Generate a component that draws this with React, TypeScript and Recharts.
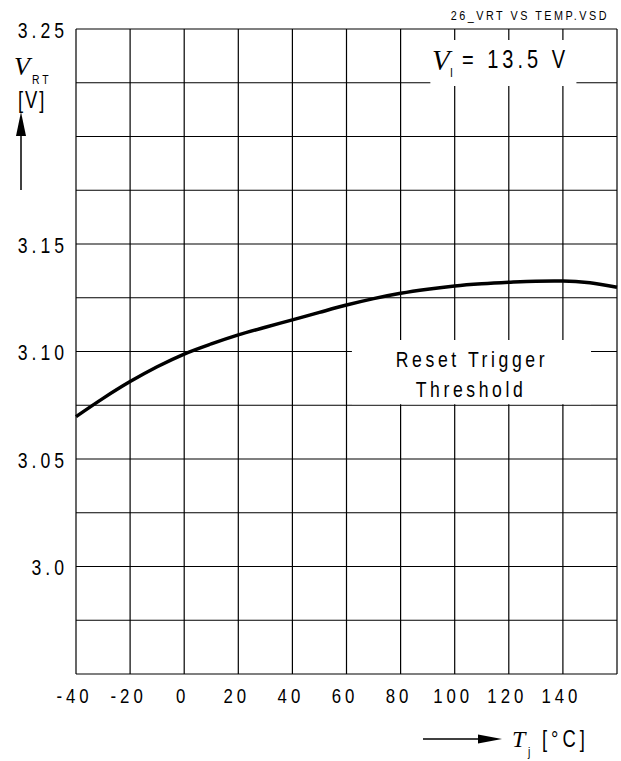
import React from "react";
import {
  LineChart,
  Line,
  XAxis,
  YAxis,
  CartesianGrid,
  ReferenceArea,
} from "recharts";

// junction temperature (°C) and reset trigger threshold (V)
const temps = [-40, -30, -20, -10, 0, 10, 20, 30, 40, 50, 60, 70, 80, 90, 100, 110, 120, 130, 140, 150, 160];
const vrt = [3.0697, 3.0782, 3.086, 3.0929, 3.0988, 3.1035, 3.1077, 3.1113, 3.1147, 3.1182, 3.1216, 3.1246, 3.1271, 3.129, 3.1305, 3.1315, 3.1322, 3.1327, 3.1328, 3.132, 3.1299];

const xTicks = [-40, -20, 0, 20, 40, 60, 80, 100, 120, 140, 160];
const yTicks = [2.95, 2.975, 3.0, 3.025, 3.05, 3.075, 3.1, 3.125, 3.15, 3.175, 3.2, 3.225, 3.25];
const yLabels: Record<string, string> = {
  "3.250": "3.25",
  "3.150": "3.15",
  "3.100": "3.10",
  "3.050": "3.05",
  "3.000": "3.0",
};

const data = temps.map((t, i) => ({ t, v: vrt[i] }));

const sans = "'Liberation Sans', Arial, sans-serif";
const serif = "'Liberation Serif', 'DejaVu Serif', serif";
const SQ = 0.8; // horizontal squeeze, to look like a narrow face

// narrow text: letter spacing ls is in screen pixels
const NText = ({ x, y, size, ls = 0, anchor = "start", children }: any) => (
  <g transform={`translate(${x},${y}) scale(${SQ},1)`}>
    <text x={0} y={0} textAnchor={anchor} fontFamily={sans} fontSize={size} letterSpacing={ls / SQ} fill="#000">
      {children}
    </text>
  </g>
);

const XTick = (props: any) => {
  const { x, payload } = props;
  if (payload.value === 160) return null;
  return <NText x={x - 1.5} y={703} anchor="middle" size={21} ls={4}>{payload.value}</NText>;
};

const YTick = (props: any) => {
  const { y, payload } = props;
  const label = yLabels[Number(payload.value).toFixed(3)];
  if (!label) return null;
  return <NText x={68} y={y + 8.5} anchor="end" size={22} ls={4}>{label}</NText>;
};

export default function App() {
  return (
    <div style={{ position: "absolute", left: 0, top: 0, width: 621, height: 761, background: "#fff" }}>
      <LineChart width={621} height={761} data={data} margin={{ top: 29, right: 4, bottom: 47, left: 0 }}>
        <CartesianGrid stroke="#000" strokeWidth={1.2} horizontalValues={yTicks} verticalValues={xTicks} />
        <XAxis
          dataKey="t"
          type="number"
          domain={[-40, 160]}
          ticks={xTicks}
          axisLine={false}
          tickLine={false}
          tick={<XTick />}
          height={40}
          interval={0}
        />
        <YAxis
          type="number"
          domain={[2.95, 3.25]}
          ticks={yTicks}
          axisLine={false}
          tickLine={false}
          tick={<YTick />}
          width={76}
          interval={0}
        />
        <ReferenceArea x1={91} x2={145} y1={3.2235} y2={3.2449} fill="#fff" fillOpacity={1} stroke="none" />
        <ReferenceArea x1={62} x2={150.4} y1={3.0755} y2={3.1053} fill="#fff" fillOpacity={1} stroke="none" />
        <Line
          type="monotone"
          dataKey="v"
          stroke="#000"
          strokeWidth={3.5}
          dot={false}
          isAnimationActive={false}
        />
      </LineChart>
      <svg width={621} height={761} style={{ position: "absolute", left: 0, top: 0, pointerEvents: "none" }}>
        <NText x={609} y={20} anchor="end" size={13.5} ls={2.5}>26_VRT VS TEMP.VSD</NText>
        <text x={432} y={70} fontFamily={serif} fontStyle="italic" fontSize={29} fill="#000">V</text>
        <NText x={450} y={77} size={13}>I</NText>
        <NText x={462} y={68} size={25} ls={4}>= 13.5 V</NText>

        <NText x={472} y={367} anchor="middle" size={22} ls={3.6}>Reset Trigger</NText>
        <NText x={471} y={397} anchor="middle" size={22} ls={3.6}>Threshold</NText>

        <text x={14} y={75} fontFamily={serif} fontStyle="italic" fontSize={26} fill="#000">V</text>
        <NText x={32} y={84} size={13} ls={3}>RT</NText>
        <NText x={18} y={108} size={23} ls={2}>[V]</NText>
        <line x1={21} y1={190} x2={21} y2={130} stroke="#000" strokeWidth={1.5} />
        <polygon points="21,112 16,136 26,136" fill="#000" />

        <line x1={423} y1={739} x2={482} y2={739} stroke="#000" strokeWidth={1.5} />
        <polygon points="502,739 478,734.5 478,743.5" fill="#000" />
        <text x={512} y={747} fontFamily={serif} fontStyle="italic" fontSize={24} fill="#000">T</text>
        <NText x={528} y={756} size={13}>j</NText>
        <NText x={542} y={747} size={23} ls={4}>[°C]</NText>
      </svg>
    </div>
  );
}
